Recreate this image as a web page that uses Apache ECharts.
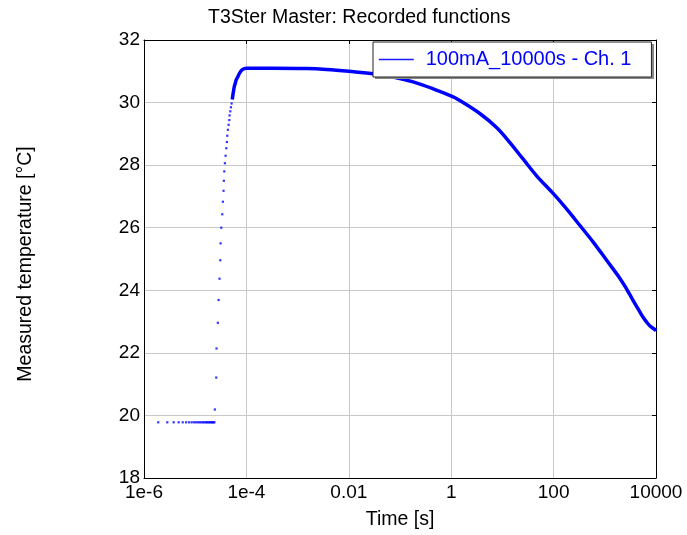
<!DOCTYPE html>
<html>
<head>
<meta charset="utf-8">
<script src="https://cdn.jsdelivr.net/npm/echarts@6/dist/echarts.min.js"></script>
<style>
  html, body { margin: 0; padding: 0; background: #fff; }
  #chart { width: 687px; height: 535px; }
</style>
</head>
<body>
<div id="chart"></div>
<script>
// Recorded T3Ster function: time [s] vs measured temperature [°C]
const seriesName = '100mA_10000s - Ch. 1';

// Sparse samples before and during the heating step (drawn as dots)
const sparseTimes = [
  1.9e-6, 2.85e-6, 3.8e-6, 4.75e-6, 5.7e-6, 6.65e-6, 7.6e-6, 8.55e-6, 9.5e-6, 10.4e-6,
  11.4e-6, 12.3e-6, 13.3e-6, 14.2e-6, 15.2e-6, 16.1e-6, 17.1e-6, 18.0e-6, 19.0e-6, 19.9e-6,
  20.9e-6, 21.8e-6, 22.8e-6, 23.7e-6,
  2.42e-5, 2.58e-5, 2.61e-5, 2.77e-5, 2.86e-5, 2.99e-5, 3.09e-5, 3.13e-5, 3.23e-5, 3.38e-5,
  3.47e-5, 3.58e-5, 3.63e-5, 3.70e-5, 3.80e-5, 3.92e-5, 4.05e-5, 4.16e-5, 4.23e-5, 4.35e-5,
  4.49e-5, 4.63e-5, 4.69e-5, 4.85e-5, 4.98e-5, 5.14e-5
];
const sparseTemps = [
  19.78, 19.78, 19.78, 19.78, 19.78, 19.78, 19.78, 19.78, 19.78, 19.78,
  19.78, 19.78, 19.78, 19.78, 19.78, 19.78, 19.78, 19.78, 19.78, 19.78,
  19.78, 19.78, 19.78, 19.78,
  20.19, 21.21, 22.14, 22.96, 23.69, 24.37, 24.96, 25.5, 26.0, 26.43,
  26.83, 27.18, 27.5, 27.8, 28.06, 28.3, 28.54, 28.74, 28.94, 29.13,
  29.29, 29.44, 29.59, 29.72, 29.85, 29.97
];

// Densely sampled part of the record (drawn as a continuous trace)
const denseTimes = [
  5.30e-5, 5.45e-5, 5.62e-5, 5.80e-5, 6.07e-5, 6.35e-5, 6.82e-5, 7.36e-5, 8.31e-5, 9.95e-5,
  3.3e-4, 1.48e-3, 3.65e-3, 0.0101, 0.0297, 0.0731, 0.18, 0.443, 1.04, 1.36,
  3.62, 7.69, 14.0, 25.5, 46.6, 100, 179, 327, 594, 1086,
  1977, 2754, 3105, 4195, 4864, 5645, 6577, 7632, 9550, 10000
];
const denseTemps = [
  30.1, 30.25, 30.38, 30.51, 30.62, 30.73, 30.83, 30.94, 31.05, 31.1,
  31.1, 31.09, 31.06, 31.0, 30.92, 30.82, 30.66, 30.44, 30.2, 30.1,
  29.65, 29.2, 28.72, 28.19, 27.66, 27.08, 26.6, 26.07, 25.54, 24.96,
  24.38, 24.0, 23.85, 23.48, 23.3, 23.13, 22.98, 22.86, 22.74, 22.7
];

// Axis ranges and tick labels
const xTickLabels = ['1e-6', '1e-4', '0.01', '1', '100', '10000'];
const xMin = 1e-6, xMax = 1e4;
const yMin = 18, yMax = 32, yStep = 2;

const FONT = '"Liberation Sans", Arial, sans-serif';
const BLUE = '#0000ff';
const GRID_GRAY = '#c8c8c8';

// legend box placement (the drop shadow is drawn behind it)
const LEGEND_LEFT = 373, LEGEND_TOP = 42, LEGEND_W = 279, LEGEND_H = 35;

const pairs = (xs, ys) => xs.map((x, i) => [x, ys[i]]);

const xTickFormatter = (v) => {
  const idx = Math.round((Math.log10(v) - Math.log10(xMin)) / 2);
  return xTickLabels[idx] ?? '';
};

const chart = echarts.init(document.getElementById('chart'), null, { renderer: 'canvas' });

chart.setOption({
  animation: false,
  backgroundColor: '#ffffff',
  color: [BLUE, BLUE],
  textStyle: { fontFamily: FONT },
  title: {
    text: 'T3Ster Master: Recorded functions',
    left: 208,
    top: 8,
    padding: 0,
    textStyle: { fontFamily: FONT, fontSize: 19.5, fontWeight: 'normal', color: '#000' }
  },
  grid: { left: 144, right: 31, top: 40, bottom: 55, containLabel: false },
  graphic: [
    {
      type: 'rect',
      z: 9,
      silent: true,
      shape: { x: LEGEND_LEFT + 2, y: LEGEND_TOP + 2, width: LEGEND_W, height: LEGEND_H },
      style: { fill: '#888888' }
    }
  ],
  legend: {
    z: 10,
    data: [seriesName],
    left: LEGEND_LEFT,
    top: LEGEND_TOP,
    orient: 'horizontal',
    padding: [6, 20, 6, 5],
    itemWidth: 35,
    itemHeight: 14,
    backgroundColor: '#ffffff',
    borderColor: '#222222',
    borderWidth: 1,
    borderRadius: 0,
    // legend key: a thin blue line without a marker
    itemStyle: { opacity: 0 },
    lineStyle: { width: 1.5, color: '#1a1aff', opacity: 1 },
    selectedMode: false,
    textStyle: {
      fontFamily: FONT, fontSize: 20, color: BLUE,
      lineHeight: 23, padding: [0, 0, 0, 7]
    }
  },
  xAxis: [
    {
      type: 'log',
      logBase: 10,
      min: xMin,
      max: xMax,
      interval: 2,
      position: 'bottom',
      name: 'Time [s]',
      nameLocation: 'middle',
      nameGap: 32,
      nameTextStyle: { fontFamily: FONT, fontSize: 19.5, color: '#000' },
      axisLine: { show: true, lineStyle: { color: '#000', width: 1 } },
      axisTick: { show: false },
      minorTick: { show: false },
      axisLabel: {
        show: true, margin: 5, color: '#000', fontFamily: FONT, fontSize: 19,
        formatter: xTickFormatter, showMinLabel: true, showMaxLabel: true
      },
      splitLine: { show: true, lineStyle: { color: GRID_GRAY, width: 1 } }
    },
    {
      type: 'log',
      logBase: 10,
      min: xMin,
      max: xMax,
      interval: 2,
      position: 'top',
      axisLine: { show: true, lineStyle: { color: '#000', width: 1 } },
      axisTick: { show: true, inside: true, length: 4, lineStyle: { color: '#000' } },
      axisLabel: { show: false },
      splitLine: { show: false }
    }
  ],
  yAxis: [
    {
      type: 'value',
      min: yMin,
      max: yMax,
      interval: yStep,
      position: 'left',
      name: 'Measured temperature [°C]',
      nameLocation: 'middle',
      nameGap: 108,
      nameTextStyle: { fontFamily: FONT, fontSize: 19.5, color: '#000', padding: [0, 10, 0, 0] },
      axisLine: { show: true, lineStyle: { color: '#000', width: 1 } },
      axisTick: { show: false },
      axisLabel: { show: true, margin: 4, color: '#000', fontFamily: FONT, fontSize: 19 },
      splitLine: { show: true, lineStyle: { color: GRID_GRAY, width: 1 } }
    },
    {
      type: 'value',
      min: yMin,
      max: yMax,
      interval: yStep,
      position: 'right',
      axisLine: { show: true, lineStyle: { color: '#000', width: 1 } },
      axisTick: { show: true, inside: true, length: 4, lineStyle: { color: '#000' } },
      axisLabel: { show: false },
      splitLine: { show: false }
    }
  ],
  series: [
    {
      name: seriesName,
      type: 'line',
      xAxisIndex: 0,
      yAxisIndex: 0,
      color: BLUE,
      symbol: 'none',
      smooth: 0.35,
      lineStyle: { color: BLUE, width: 3.5 },
      itemStyle: { color: BLUE },
      data: pairs(denseTimes, denseTemps),
      z: 3
    },
    {
      name: seriesName,
      type: 'scatter',
      xAxisIndex: 0,
      yAxisIndex: 0,
      color: BLUE,
      symbol: 'rect',
      symbolSize: 2.2,
      itemStyle: { color: BLUE },
      data: pairs(sparseTimes, sparseTemps),
      z: 3
    }
  ]
});
</script>
</body>
</html>
